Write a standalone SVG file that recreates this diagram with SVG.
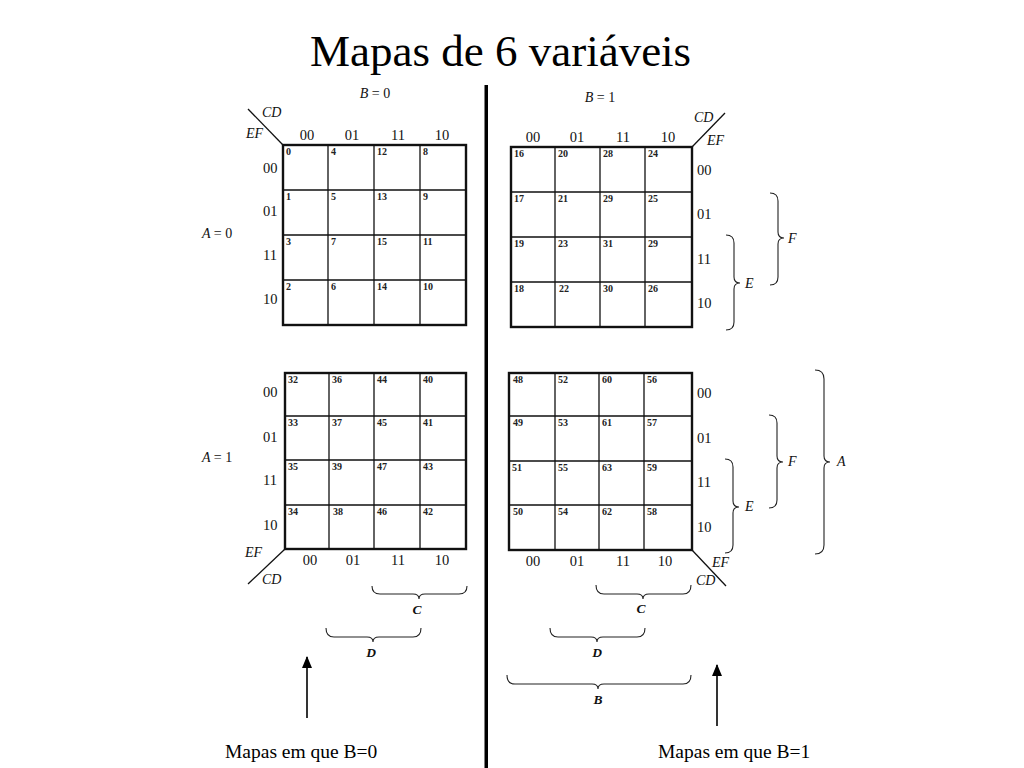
<svg xmlns="http://www.w3.org/2000/svg" width="1024" height="768" viewBox="0 0 1024 768">
<defs>
<style>
.title{font-family:"Liberation Serif","Times New Roman",serif;font-size:45px;fill:#000}
.cap{font-family:"Liberation Serif","Times New Roman",serif;font-size:19.5px;fill:#000}
.lbl{font-family:"Liberation Serif","Times New Roman",serif;font-size:14.5px;fill:#111}
.num{font-family:"Liberation Serif","Times New Roman",serif;font-size:10px;font-weight:bold;fill:#222}
.it{font-family:"Liberation Serif","Times New Roman",serif;font-size:14px;font-style:italic;fill:#111}
.itb{font-family:"Liberation Serif","Times New Roman",serif;font-size:13.5px;font-style:italic;font-weight:bold;fill:#111}
.outer{fill:#fff;stroke:#111;stroke-width:2.4}
.grid{stroke:#111;stroke-width:1.3;fill:none}
.brace{fill:none;stroke:#222;stroke-width:1.1}
.diag{stroke:#111;stroke-width:1.3}
.arrow{stroke:#000;stroke-width:1.6}
</style>
<marker id="ah" markerWidth="12" markerHeight="10" refX="11" refY="5" orient="auto" markerUnits="userSpaceOnUse" viewBox="0 0 12 10">
<path d="M0,0 L12,5 L0,10 Z" fill="#000"/>
</marker>
</defs>
<rect width="1024" height="768" fill="#fff"/>
<text class="title" x="310" y="66">Mapas de 6 variáveis</text>
<rect id="divider" x="484.5" y="85" width="3.5" height="683" fill="#000"/>

<g id="map-b0-a0">
<rect class="outer" x="283" y="145" width="183" height="180"/>
<path class="grid" d="M328,145V325M374,145V325M420,145V325M283,190H466M283,235H466M283,280H466"/>
<text class="num" x="286" y="155">0</text><text class="num" x="331" y="155">4</text><text class="num" x="377" y="155">12</text><text class="num" x="423" y="155">8</text>
<text class="num" x="286" y="200">1</text><text class="num" x="331" y="200">5</text><text class="num" x="377" y="200">13</text><text class="num" x="423" y="200">9</text>
<text class="num" x="286" y="245">3</text><text class="num" x="331" y="245">7</text><text class="num" x="377" y="245">15</text><text class="num" x="423" y="245">11</text>
<text class="num" x="286" y="290">2</text><text class="num" x="331" y="290">6</text><text class="num" x="377" y="290">14</text><text class="num" x="423" y="290">10</text>
<g class="lbl" text-anchor="middle"><text x="307" y="140">00</text><text x="352" y="140">01</text><text x="398" y="140">11</text><text x="442" y="140">10</text></g>
<text class="lbl" x="263" y="173">00</text><text class="lbl" x="263" y="216">01</text><text class="lbl" x="263" y="260">11</text><text class="lbl" x="263" y="304">10</text>
<line class="diag" x1="248" y1="109" x2="283" y2="145"/>
<text class="it" x="262" y="117">CD</text><text class="it" x="246" y="138">EF</text>
<text class="it" x="375" y="98" text-anchor="middle">B <tspan font-style="normal">= 0</tspan></text>
<text class="it" x="202" y="238">A <tspan font-style="normal">= 0</tspan></text>
</g>

<g id="map-b1-a0">
<rect class="outer" x="511" y="147" width="181" height="180"/>
<path class="grid" d="M555,147V327M600,147V327M645,147V327M511,192H692M511,237H692M511,282H692"/>
<text class="num" x="514" y="157">16</text><text class="num" x="558" y="157">20</text><text class="num" x="603" y="157">28</text><text class="num" x="648" y="157">24</text>
<text class="num" x="514" y="202">17</text><text class="num" x="558" y="202">21</text><text class="num" x="603" y="202">29</text><text class="num" x="648" y="202">25</text>
<text class="num" x="514" y="247">19</text><text class="num" x="558" y="247">23</text><text class="num" x="603" y="247">31</text><text class="num" x="648" y="247">29</text>
<text class="num" x="514" y="292">18</text><text class="num" x="559" y="292">22</text><text class="num" x="603" y="292">30</text><text class="num" x="648" y="292">26</text>
<g class="lbl" text-anchor="middle"><text x="533" y="142">00</text><text x="577" y="142">01</text><text x="623" y="142">11</text><text x="668" y="142">10</text></g>
<text class="lbl" x="697" y="175">00</text><text class="lbl" x="697" y="219">01</text><text class="lbl" x="697" y="264">11</text><text class="lbl" x="697" y="308">10</text>
<line class="diag" x1="692" y1="147" x2="725" y2="113"/>
<text class="it" x="694" y="122">CD</text><text class="it" x="707" y="145">EF</text>
<text class="it" x="600" y="102" text-anchor="middle">B <tspan font-style="normal">= 1</tspan></text>
</g>

<g id="map-b0-a1">
<rect class="outer" x="285" y="373" width="181" height="176"/>
<path class="grid" d="M329,373V549M374,373V549M420,373V549M285,416H466M285,460H466M285,505H466"/>
<text class="num" x="288" y="383">32</text><text class="num" x="332" y="383">36</text><text class="num" x="377" y="383">44</text><text class="num" x="423" y="383">40</text>
<text class="num" x="288" y="426">33</text><text class="num" x="332" y="426">37</text><text class="num" x="377" y="426">45</text><text class="num" x="423" y="426">41</text>
<text class="num" x="288" y="470">35</text><text class="num" x="332" y="470">39</text><text class="num" x="377" y="470">47</text><text class="num" x="423" y="470">43</text>
<text class="num" x="288" y="515">34</text><text class="num" x="333" y="515">38</text><text class="num" x="377" y="515">46</text><text class="num" x="423" y="515">42</text>
<g class="lbl" text-anchor="middle"><text x="310" y="565">00</text><text x="353" y="565">01</text><text x="398" y="565">11</text><text x="442" y="565">10</text></g>
<text class="lbl" x="263" y="397">00</text><text class="lbl" x="263" y="442">01</text><text class="lbl" x="263" y="485">11</text><text class="lbl" x="263" y="530">10</text>
<line class="diag" x1="285" y1="549" x2="248" y2="584"/>
<text class="it" x="245" y="557">EF</text><text class="it" x="262" y="584">CD</text>
<text class="it" x="202" y="462">A <tspan font-style="normal">= 1</tspan></text>
</g>

<g id="map-b1-a1">
<rect class="outer" x="509" y="373" width="183" height="177"/>
<path class="grid" d="M555,373V550M599,373V550M644,373V550M509,416H692M509,461H692M509,505H692"/>
<text class="num" x="513" y="383">48</text><text class="num" x="558" y="383">52</text><text class="num" x="602" y="383">60</text><text class="num" x="647" y="383">56</text>
<text class="num" x="513" y="426">49</text><text class="num" x="558" y="426">53</text><text class="num" x="602" y="426">61</text><text class="num" x="647" y="426">57</text>
<text class="num" x="512" y="471">51</text><text class="num" x="558" y="471">55</text><text class="num" x="602" y="471">63</text><text class="num" x="647" y="471">59</text>
<text class="num" x="513" y="515">50</text><text class="num" x="558" y="515">54</text><text class="num" x="602" y="515">62</text><text class="num" x="647" y="515">58</text>
<g class="lbl" text-anchor="middle"><text x="533" y="566">00</text><text x="577" y="566">01</text><text x="623" y="566">11</text><text x="665" y="566">10</text></g>
<text class="lbl" x="697" y="398">00</text><text class="lbl" x="697" y="443">01</text><text class="lbl" x="697" y="487">11</text><text class="lbl" x="697" y="532">10</text>
<line class="diag" x1="692" y1="550" x2="726" y2="586"/>
<text class="it" x="712" y="567">EF</text><text class="it" x="696" y="585">CD</text>
</g>

<g id="braces">
<g id="brace-C-left"><path class="brace" d="M372,586 Q372,594 380,594 L413,594 Q419,594 419,599 Q419,594 425,594 L459,594 Q467,594 467,586"/><text class="itb" x="417" y="614" text-anchor="middle">C</text></g>
<g id="brace-D-left"><path class="brace" d="M326,628 Q326,637 334,637 L367,637 Q373,637 373,642 Q373,637 379,637 L413,637 Q421,637 421,628"/><text class="itb" x="371" y="657" text-anchor="middle">D</text></g>
<g id="brace-C-right"><path class="brace" d="M596,585 Q596,594 604,594 L637,594 Q643,594 643,599 Q643,594 649,594 L683,594 Q691,594 691,585"/><text class="itb" x="641" y="613" text-anchor="middle">C</text></g>
<g id="brace-D-right"><path class="brace" d="M550,628 Q550,637 558,637 L591,637 Q597,637 597,642 Q597,637 603,637 L637,637 Q645,637 645,628"/><text class="itb" x="597" y="657" text-anchor="middle">D</text></g>
<g id="brace-B"><path class="brace" d="M507,675 Q507,684 515,684 L592,684 Q598,684 598,689 Q598,684 604,684 L683,684 Q691,684 691,675"/><text class="itb" x="598" y="704" text-anchor="middle">B</text></g>
<g id="brace-F-top"><path class="brace" d="M770,193 Q778,193 778,201 L778,232 Q778,238 784,238 Q778,238 778,244 L778,277 Q778,285 770,285"/><text class="it" x="788" y="243">F</text></g>
<g id="brace-E-top"><path class="brace" d="M726,235 Q734,235 734,243 L734,277 Q734,283 740,283 Q734,283 734,289 L734,322 Q734,330 726,330"/><text class="it" x="745" y="288">E</text></g>
<g id="brace-F-bottom"><path class="brace" d="M769,415 Q777,415 777,423 L777,456 Q777,462 783,462 Q777,462 777,468 L777,500 Q777,508 769,508"/><text class="it" x="788" y="466">F</text></g>
<g id="brace-E-bottom"><path class="brace" d="M725,459 Q733,459 733,467 L733,501 Q733,507 739,507 Q733,507 733,513 L733,545 Q733,553 725,553"/><text class="it" x="745" y="511">E</text></g>
<g id="brace-A"><path class="brace" d="M815,370 Q824,370 824,379 L824,456 Q824,462 830,462 Q824,462 824,468 L824,545 Q824,554 815,554"/><text class="it" x="837" y="466">A</text></g>
</g>

<g id="connectors">
<line class="arrow" x1="307" y1="718" x2="307" y2="657" marker-end="url(#ah)"/>
<line class="arrow" x1="717" y1="726" x2="717" y2="665" marker-end="url(#ah)"/>
</g>

<text class="cap" x="225" y="758">Mapas em que B=0</text>
<text class="cap" x="658" y="758">Mapas em que B=1</text>
</svg>
